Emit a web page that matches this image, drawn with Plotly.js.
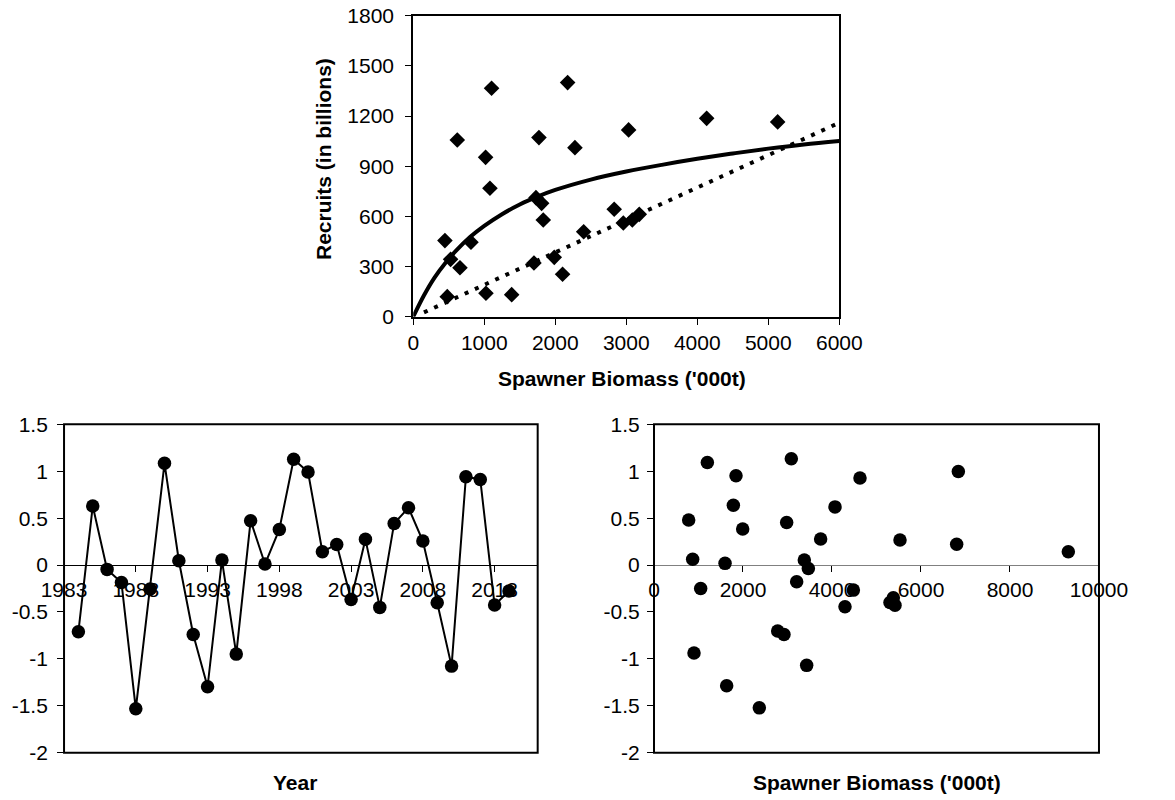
<!DOCTYPE html>
<html>
<head>
<meta charset="utf-8">
<script src="https://cdn.plot.ly/plotly-3.0.1.min.js"></script>
<style>html,body{margin:0;padding:0;background:#fff}#chart{width:1175px;height:800px}</style>
</head>
<body>
<div id="chart"></div>
<script>
// ---- Top panel: stock-recruit scatter ----
const spawnerBiomass = [1103, 2174, 620, 1770, 2277, 3033, 4132, 5132, 1019, 1080, 1728, 1808, 1831, 446, 813, 526, 658, 479, 1024, 1386, 1700, 1986, 2103, 2400, 2830, 2958, 3085, 3183];
const recruits       = [1366, 1400, 1057, 1071, 1011, 1117, 1186, 1165, 953, 768, 712, 678, 578, 455, 445, 343, 293, 120, 140, 132, 321, 355, 254, 508, 643, 560, 578, 612];
// fitted curve (solid)
const curveS = [0, 150, 300, 450, 600, 800, 1000, 1250, 1500, 1750, 2000, 2500, 3000, 3500, 4000, 4500, 5000, 5500, 6000];
const curveR = [0, 127, 234, 320, 393, 476, 543, 613, 671, 718, 758, 820, 868, 908, 944, 976, 1005, 1030, 1050];
// dotted line
const dotS = [151, 1408, 2667, 4085, 5493, 6000];
const dotR = [26, 269, 514, 788, 1063, 1160];

// ---- Bottom-left: residuals by year ----
const years = [1984,1985,1986,1987,1988,1989,1990,1991,1992,1993,1994,1995,1996,1997,1998,1999,2000,2001,2002,2003,2004,2005,2006,2007,2008,2009,2010,2011,2012,2013,2014];
const residYear = [-0.711,0.629,-0.046,-0.185,-1.532,-0.256,1.084,0.046,-0.739,-1.297,0.053,-0.949,0.473,0.011,0.380,1.127,0.991,0.142,0.220,-0.366,0.274,-0.451,0.444,0.611,0.256,-0.402,-1.077,0.942,0.913,-0.426,-0.277];

// ---- Bottom-right: residuals vs spawner biomass ----
const residBiomass = [779, 869, 1049, 1199, 899, 1596, 1633, 1783, 1843, 1993, 2367, 2779, 2921, 2981, 3086, 3206, 3378, 3468, 3431, 3745, 4068, 4292, 4480, 4629, 5303, 5378, 5416, 5528, 6802, 6839, 9311];
const residValue   = [0.481, 0.061, -0.249, 1.094, -0.937, 0.018, -1.287, 0.638, 0.952, 0.385, -1.522, -0.702, -0.741, 0.453, 1.133, -0.178, 0.053, -0.036, -1.069, 0.278, 0.620, -0.445, -0.267, 0.927, -0.399, -0.349, -0.428, 0.267, 0.221, 0.998, 0.143];

// tick labels
const topXTicks = [0,1000,2000,3000,4000,5000,6000];
const topYTicks = [0,300,600,900,1200,1500,1800];
const yearTicks = [1983,1988,1993,1998,2003,2008,2013];
const bioTicks = [0,2000,4000,6000,8000,10000];
const bioTickText = ['0','2000','4000','6000','8000','10000'];
const residTicks = [-2,-1.5,-1,-0.5,0,0.5,1,1.5];
const residTickText = ['-2','-1.5','-1','-0.5','0','0.5','1','1.5'];

const FONT = 'Liberation Sans, Arial, Helvetica, sans-serif';
const TICKFONT = {family: FONT, size: 21, color: '#000'};
const TITLEFONT = {family: FONT, size: 21, color: '#000'};

const traces = [
  {x: curveS, y: curveR, type: 'scatter', mode: 'lines', line: {color: '#000', width: 4, shape: 'spline', smoothing: 1}, xaxis: 'x', yaxis: 'y', hoverinfo: 'skip'},
  {x: dotS, y: dotR, type: 'scatter', mode: 'lines', line: {color: '#000', width: 4, dash: '4px,7.2px'}, xaxis: 'x', yaxis: 'y', hoverinfo: 'skip'},
  {x: spawnerBiomass, y: recruits, type: 'scatter', mode: 'markers', marker: {symbol: 'diamond', size: 12, color: '#000'}, xaxis: 'x', yaxis: 'y'},
  {x: years, y: residYear, type: 'scatter', mode: 'lines+markers', line: {color: '#000', width: 2}, marker: {symbol: 'circle', size: 13.5, color: '#000'}, xaxis: 'x2', yaxis: 'y2'},
  {x: residBiomass, y: residValue, type: 'scatter', mode: 'markers', marker: {symbol: 'circle', size: 13.5, color: '#000'}, xaxis: 'x3', yaxis: 'y3'}
];

const common = {showgrid: false, ticks: 'outside', ticklen: 6, tickwidth: 1, tickcolor: '#000', tickfont: TICKFONT, fixedrange: true};

const zeroPos = 0.0591 + (2/3.5) * (0.4696 - 0.0591);

const layout = {
  width: 1175, height: 800,
  margin: {l: 0, r: 0, t: 0, b: 0},
  paper_bgcolor: '#fff', plot_bgcolor: '#fff',
  showlegend: false,
  font: {family: FONT, color: '#000'},
  xaxis: Object.assign({}, common, {domain: [0.3517, 0.7143], anchor: 'y', range: [0, 6000], tickvals: topXTicks, zeroline: false, showline: true, mirror: true, linewidth: 2, linecolor: '#000'}),
  yaxis: Object.assign({}, common, {domain: [0.6041, 0.9804], anchor: 'x', range: [0, 1800], tickvals: topYTicks, zeroline: false, showline: true, mirror: true, linewidth: 2, linecolor: '#000', ticklabelstandoff: 7}),
  xaxis2: Object.assign({}, common, {domain: [0.0545, 0.4576], anchor: 'free', position: zeroPos, range: [1983, 2016], tickvals: yearTicks, zeroline: false, showline: false, layer: 'below traces'}),
  yaxis2: Object.assign({}, common, {domain: [0.0591, 0.4696], anchor: 'x2', range: [-2, 1.5], tickvals: residTicks, ticktext: residTickText, showline: false, zeroline: true, zerolinecolor: '#000', zerolinewidth: 1, ticklabelstandoff: 5}),
  xaxis3: Object.assign({}, common, {domain: [0.5566, 0.9353], anchor: 'free', position: zeroPos, range: [0, 10000], tickvals: bioTicks, ticktext: bioTickText, zeroline: false, showline: false, layer: 'below traces'}),
  yaxis3: Object.assign({}, common, {domain: [0.0591, 0.4696], anchor: 'x3', range: [-2, 1.5], tickvals: residTicks, ticktext: residTickText, showline: false, zeroline: true, zerolinecolor: '#808080', zerolinewidth: 1, ticklabelstandoff: 3}),
  shapes: [
    {type: 'rect', xref: 'x2 domain', yref: 'y2 domain', x0: 0, x1: 1, y0: 0, y1: 1, line: {color: '#000', width: 2}},
    {type: 'rect', xref: 'x3 domain', yref: 'y3 domain', x0: 0, x1: 1, y0: 0, y1: 1, line: {color: '#000', width: 2}}
  ],
  annotations: [
    {text: '<b>Recruits (in billions)</b>', xref: 'paper', yref: 'paper', x: 0.2749, y: 0.80125, xanchor: 'center', yanchor: 'middle', textangle: -90, showarrow: false, font: TITLEFONT},
    {text: "<b>Spawner Biomass ('000t)</b>", xref: 'paper', yref: 'paper', x: 0.5294, y: 0.5275, xanchor: 'center', yanchor: 'middle', showarrow: false, font: TITLEFONT},
    {text: '<b>Year</b>', xref: 'paper', yref: 'paper', x: 0.2513, y: 0.0216, xanchor: 'center', yanchor: 'middle', showarrow: false, font: TITLEFONT},
    {text: "<b>Spawner Biomass ('000t)</b>", xref: 'paper', yref: 'paper', x: 0.7464, y: 0.0216, xanchor: 'center', yanchor: 'middle', showarrow: false, font: TITLEFONT}
  ]
};

Plotly.newPlot('chart', traces, layout, {displayModeBar: false, staticPlot: true});
</script>
</body>
</html>
